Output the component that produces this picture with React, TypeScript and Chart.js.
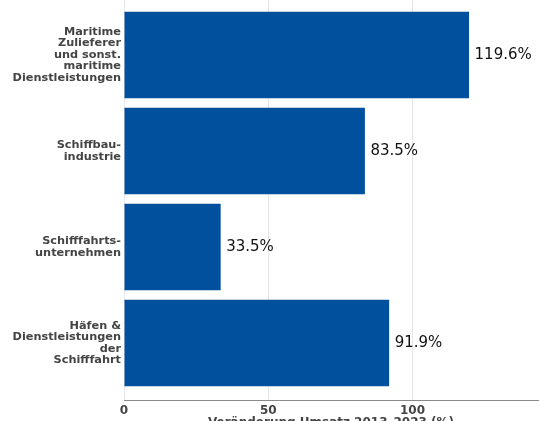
import React, { useEffect, useRef } from "react";
import { Chart, registerables } from "chart.js";

Chart.register(...registerables);

const categories: string[][] = [
  ["Maritime", "Zulieferer", "und sonst.", "maritime", "Dienstleistungen"],
  ["Schiffbau-", "industrie"],
  ["Schifffahrts-", "unternehmen"],
  ["Häfen &", "Dienstleistungen", "der", "Schifffahrt"],
];
const values: number[] = [119.6, 83.5, 33.5, 91.9];
const xTicks: number[] = [0, 50, 100];
const xTitle = "Veränderung Umsatz 2013–2023 (%)";

const BAR_COLOR = "#00509e";
const FONT = "'DejaVu Sans', Verdana, sans-serif";

export default function App() {
  const ref = useRef<HTMLCanvasElement | null>(null);

  useEffect(() => {
    document.body.style.margin = "0";
    const canvas = ref.current;
    if (!canvas) return;

    const labelPlugin = {
      id: "valueLabels",
      afterDatasetsDraw(chart: any) {
        const ctx = chart.ctx;
        const meta = chart.getDatasetMeta(0);
        ctx.save();
        ctx.font = `15px ${FONT}`;
        ctx.fillStyle = "#111";
        ctx.textAlign = "left";
        ctx.textBaseline = "middle";
        meta.data.forEach((el: any, i: number) => {
          ctx.fillText(values[i].toFixed(1) + "%", el.x + 5.5, el.y);
        });
        ctx.restore();
      },
    };

    const titlePlugin = {
      id: "xTitle",
      afterDraw(chart: any) {
        const ctx = chart.ctx;
        const a = chart.chartArea;
        ctx.save();
        ctx.font = `bold 12px ${FONT}`;
        ctx.fillStyle = "#444";
        ctx.textAlign = "center";
        ctx.textBaseline = "top";
        ctx.fillText(xTitle, (a.left + a.right) / 2, 416.5);
        ctx.restore();
      },
    };

    const chart = new Chart(canvas, {
      type: "bar",
      data: {
        datasets: [
          {
            data: values.map((v, i) => ({ x: v, y: i })) as any,
            backgroundColor: BAR_COLOR,
            borderWidth: 0,
            barPercentage: 0.9,
            categoryPercentage: 1,
          },
        ],
      },
      options: {
        indexAxis: "y",
        animation: false,
        responsive: false,
        events: [],
        layout: { padding: { left: 0, right: 2, top: 0, bottom: 0 } },
        plugins: {
          legend: { display: false },
          tooltip: { enabled: false },
        },
        scales: {
          x: {
            type: "linear",
            position: "bottom",
            min: 0,
            max: 143.5,
            offset: false,
            afterBuildTicks: (scale: any) => {
              scale.ticks = xTicks.map((v) => ({ value: v }));
            },
            afterFit: (scale: any) => {
              scale.height = 21;
              scale.paddingLeft = 0;
              scale.paddingRight = 0;
            },
            grid: {
              color: "#e6e6e6",
              lineWidth: 1,
              drawTicks: false,
              offset: false,
            },
            border: { display: true, color: "#888", width: 1 },
            ticks: {
              padding: 3.5,
              color: "#444",
              font: { family: FONT, size: 12, weight: "bold" },
              maxRotation: 0,
            },
          },
          y: {
            type: "linear",
            position: "left",
            reverse: true,
            offset: false,
            min: -0.573,
            max: 3.594,
            afterBuildTicks: (scale: any) => {
              scale.ticks = categories.map((_, i) => ({ value: i }));
            },
            afterFit: (scale: any) => {
              scale.width = 124;
              scale.paddingTop = 0;
              scale.paddingBottom = 0;
            },
            grid: { display: false, drawTicks: false, offset: false },
            border: { display: false },
            ticks: {
              padding: 3,
              color: "#444",
              font: { family: FONT, size: 11.3, weight: "bold", lineHeight: "11.5px" } as any,
              callback: (v: any) => categories[Number(v)] ?? "",
            },
          },
        },
      },
      plugins: [labelPlugin, titlePlugin],
    });

    return () => chart.destroy();
  }, []);

  return (
    <div style={{ width: 540, height: 421 }}>
      <canvas ref={ref} width={540} height={421} style={{ width: 540, height: 421, display: "block" }} />
    </div>
  );
}
